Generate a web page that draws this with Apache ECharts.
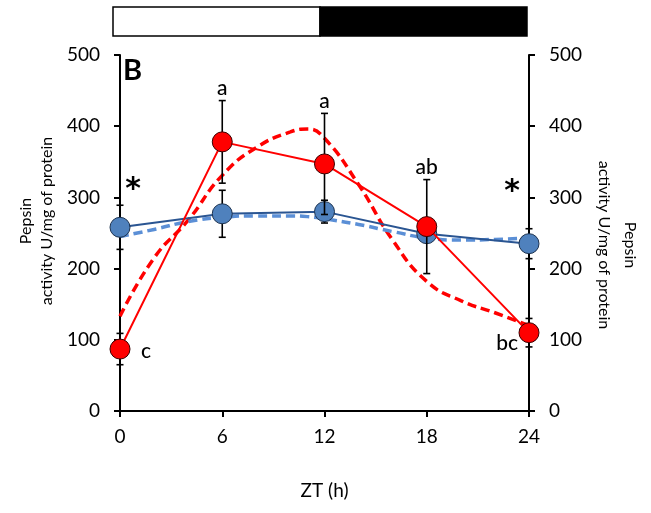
<!DOCTYPE html>
<html>
<head>
<meta charset="utf-8">
<script src="https://cdn.jsdelivr.net/npm/echarts@6/dist/echarts.min.js"></script>
<style>
html,body{margin:0;padding:0;background:#fff;}
#chart{width:651px;height:513px;}
</style>
</head>
<body>
<div id="chart"></div>
<script>
// ---- data ----
const zt = [0, 6, 12, 18, 24];
const xTicks = [0, 6, 12, 18, 24];
const yTicks = [0, 100, 200, 300, 400, 500];
const redMean = [87, 378, 347, 259, 110];
const redErr = [22, 58, 71, 66, 20];
const blueMean = [258, 277, 280, 249, 235];
const blueErr = [31, 33, 16, 10, 21];
const redLetters = ['c', 'a', 'a', 'ab', 'bc'];
const fitHours = [0, 2, 4, 6, 8, 10, 11, 12, 14, 16, 18, 20, 22, 24];
const redFit = [133, 215, 268, 331, 370, 392, 396, 383, 318, 240, 182, 155, 138, 120];
const blueFit = [245, 255, 266, 272, 274, 274, 273, 270, 262, 252, 243, 240, 241, 243];
const starAt = [0, 24];

const FONT = 'Lato';
const chart = echarts.init(document.getElementById('chart'));

function errRender(params, api) {
  const x = api.value(0), lo = api.value(1), hi = api.value(2);
  const p1 = api.coord([x, hi]), p2 = api.coord([x, lo]);
  const w = 3.5;
  const st = {stroke: '#000', lineWidth: 1.6};
  return {type: 'group', children: [
    {type: 'line', shape: {x1: p1[0], y1: p1[1], x2: p2[0], y2: p2[1]}, style: st},
    {type: 'line', shape: {x1: p1[0] - w, y1: p1[1], x2: p1[0] + w, y2: p1[1]}, style: st},
    {type: 'line', shape: {x1: p2[0] - w, y1: p2[1], x2: p2[0] + w, y2: p2[1]}, style: st}
  ]};
}

const redErrData = zt.map((x, i) => [x, redMean[i] - redErr[i], redMean[i] + redErr[i]]);
const blueErrData = zt.map((x, i) => [x, blueMean[i] - blueErr[i], blueMean[i] + blueErr[i]]);

// letters: above the error bar, except first/last beside the point
const letterData = zt.map((x, i) => {
  const item = {value: [x, redMean[i] + redErr[i]], label: {show: true, formatter: redLetters[i]}};
  if (i === 0) { item.value = [x, redMean[i]]; item.label.position = 'right'; item.label.offset = [16, 2]; }
  else if (i === zt.length - 1) { item.value = [x, redMean[i]]; item.label.position = 'left'; item.label.offset = [-6, 11]; }
  else { item.label.position = 'top'; item.label.distance = 2; }
  return item;
});

const starData = starAt.map((x) => {
  const i = zt.indexOf(x);
  return {value: [x, blueMean[i]], label: {show: true, formatter: '*', position: 'top', distance: 0,
    offset: i === 0 ? [13, -22] : [-17, -36]}};
});

const axisCommon = {
  type: 'value', min: 0, max: 500, interval: 100,
  axisLine: {show: true, lineStyle: {color: '#000', width: 2}},
  axisTick: {show: true, inside: false, length: 6, lineStyle: {color: '#000', width: 2}},
  splitLine: {show: false},
  axisLabel: {color: '#000', fontSize: 19, fontFamily: FONT, margin: 20,
    formatter: (v) => yTicks.includes(v) ? String(v) : ''}
};

chart.setOption({
  animation: false,
  backgroundColor: '#fff',
  grid: {left: 120, right: 122, top: 55, bottom: 102},
  xAxis: {
    type: 'value', min: 0, max: 24, interval: 6,
    name: 'ZT (h)', nameLocation: 'middle', nameGap: 70,
    nameTextStyle: {color: '#000', fontSize: 19, fontFamily: FONT},
    axisLine: {lineStyle: {color: '#000', width: 2}},
    axisTick: {show: true, length: 6, lineStyle: {color: '#000', width: 2}},
    splitLine: {show: false},
    axisLabel: {color: '#000', fontSize: 19, fontFamily: FONT, margin: 16,
      formatter: (v) => xTicks.includes(v) ? String(v) : ''}
  },
  yAxis: [
    Object.assign({}, axisCommon, {position: 'left'}),
    Object.assign({}, axisCommon, {position: 'right'})
  ],
  graphic: [
    {type: 'rect', shape: {x: 113, y: 7, width: 207, height: 29}, style: {fill: '#fff', stroke: '#000', lineWidth: 1.5}},
    {type: 'rect', shape: {x: 320, y: 7, width: 207, height: 29}, style: {fill: '#000', stroke: '#000', lineWidth: 1.5}},
    {type: 'text', x: 123, y: 56, style: {text: 'B', font: 'bold 29px Lato', fill: '#000'}},
    {type: 'text', x: 36, y: 221, rotation: Math.PI / 2,
      style: {text: 'Pepsin\nactivity U/mg of protein', font: '16px Lato', fill: '#000', align: 'center', verticalAlign: 'middle', lineHeight: 21}},
    {type: 'text', x: 617, y: 245, rotation: -Math.PI / 2,
      style: {text: 'Pepsin\nactivity U/mg of protein', font: '16px Lato', fill: '#000', align: 'center', verticalAlign: 'middle', lineHeight: 26}}
  ],
  series: [
    {type: 'line', name: 'redFit', data: fitHours.map((h, i) => [h, redFit[i]]), smooth: 0.5,
      showSymbol: false, symbol: 'none', z: 1,
      lineStyle: {color: '#ff0000', width: 3.5, type: [9, 5]}},
    {type: 'line', name: 'blueFit', data: fitHours.map((h, i) => [h, blueFit[i]]), smooth: 0.5,
      showSymbol: false, symbol: 'none', z: 1,
      lineStyle: {color: '#5b8fd6', width: 3.5, type: [9, 5]}},
    {type: 'custom', name: 'blueErr', renderItem: errRender, data: blueErrData, z: 2, encode: {x: 0, y: [1, 2]}},
    {type: 'line', name: 'blue', data: zt.map((x, i) => [x, blueMean[i]]), z: 3,
      symbol: 'circle', symbolSize: 20,
      lineStyle: {color: '#2a5592', width: 2},
      itemStyle: {color: '#4f81bd', borderColor: '#1d3350', borderWidth: 1}},
    {type: 'custom', name: 'redErr', renderItem: errRender, data: redErrData, z: 4, encode: {x: 0, y: [1, 2]}},
    {type: 'line', name: 'red', data: zt.map((x, i) => [x, redMean[i]]), z: 5,
      symbol: 'circle', symbolSize: 20,
      lineStyle: {color: '#ff0000', width: 2},
      itemStyle: {color: '#ff0000', borderColor: '#3a0000', borderWidth: 1}},
    {type: 'scatter', name: 'letters', data: letterData, symbolSize: 0, z: 6,
      itemStyle: {color: '#000', opacity: 1},
      label: {color: '#000', opacity: 1, fontSize: 21, fontFamily: FONT, fontWeight: 500, textBorderWidth: 0}},
    {type: 'scatter', name: 'stars', data: starData, symbolSize: 0, z: 6,
      itemStyle: {color: '#000', opacity: 1},
      label: {color: '#000', opacity: 1, fontSize: 30, fontFamily: 'DejaVu Sans', fontWeight: 'bold', textBorderWidth: 0}}
  ]
});
</script>
</body>
</html>
